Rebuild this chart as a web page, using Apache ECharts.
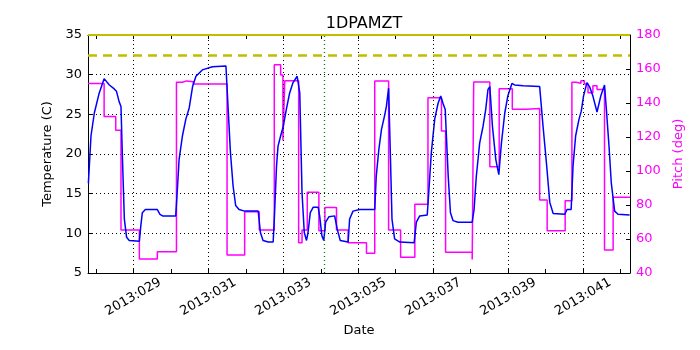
<!DOCTYPE html>
<html>
<head>
<meta charset="utf-8">
<script src="https://cdn.jsdelivr.net/npm/echarts@6/dist/echarts.min.js"></script>
<style>
  html, body { margin: 0; padding: 0; background: #fff; }
  #chart { width: 700px; height: 350px; }
</style>
</head>
<body>
<div id="chart"></div>
<script>
// day of year 2013 for each reading
var tempDays = [27.80, 27.87, 27.96, 28.09, 28.22, 28.36, 28.49, 28.55, 28.62, 28.67, 28.71, 28.76, 28.82, 28.89, 29.16, 29.20, 29.24, 29.32, 29.64, 29.71, 29.78, 30.13, 30.18, 30.22, 30.31, 30.40, 30.49, 30.58, 30.67, 30.84, 31.11, 31.47, 31.53, 31.59, 31.66, 31.73, 31.82, 31.97, 32.33, 32.39, 32.46, 32.60, 32.73, 32.76, 32.82, 32.86, 32.93, 33.00, 33.08, 33.17, 33.26, 33.37, 33.42, 33.44, 33.50, 33.56, 33.62, 33.66, 33.72, 33.80, 33.93, 33.97, 34.03, 34.08, 34.13, 34.22, 34.37, 34.44, 34.52, 34.73, 34.77, 34.86, 35.04, 35.44, 35.48, 35.55, 35.62, 35.71, 35.75, 35.81, 35.86, 35.90, 35.97, 36.11, 36.49, 36.55, 36.64, 36.84, 36.88, 36.95, 37.04, 37.13, 37.20, 37.26, 37.32, 37.40, 37.46, 37.53, 37.66, 38.04, 38.09, 38.15, 38.24, 38.33, 38.40, 38.46, 38.51, 38.58, 38.67, 38.75, 38.82, 38.91, 38.99, 39.10, 39.17, 39.40, 39.84, 39.93, 40.02, 40.11, 40.20, 40.51, 40.57, 40.68, 40.73, 40.80, 40.89, 40.95, 41.01, 41.10, 41.17, 41.26, 41.37, 41.47, 41.57, 41.62, 41.69, 41.75, 41.84, 41.93, 42.24];
var tempVals = [16.3, 22.3, 25.2, 27.7, 29.5, 28.7, 28.2, 27.9, 26.6, 26.0, 19.3, 11.8, 9.5, 9.1, 9.0, 11.0, 12.6, 13.0, 13.0, 12.4, 12.2, 12.2, 16.0, 19.3, 22.3, 24.4, 25.8, 28.5, 29.8, 30.6, 31.0, 31.1, 25.6, 20.2, 16.0, 13.5, 13.0, 12.8, 12.8, 10.1, 9.1, 8.9, 8.9, 11.8, 18.5, 21.0, 22.3, 23.5, 25.6, 27.7, 29.0, 29.8, 30.0, 27.7, 15.1, 10.1, 9.1, 10.1, 12.6, 13.3, 13.3, 12.2, 9.7, 9.1, 11.4, 12.1, 12.2, 10.5, 9.1, 8.9, 11.8, 12.8, 13.0, 13.0, 17.2, 20.6, 23.1, 25.0, 26.0, 28.3, 19.3, 11.8, 9.3, 8.9, 8.8, 11.4, 12.2, 12.3, 15.1, 20.2, 24.4, 26.4, 27.3, 26.4, 25.6, 17.2, 12.6, 11.6, 11.4, 11.4, 13.0, 17.2, 21.4, 23.5, 25.6, 28.1, 28.5, 23.5, 19.3, 17.4, 21.4, 25.2, 27.3, 28.9, 28.7, 28.6, 28.5, 23.5, 18.9, 13.9, 12.5, 12.4, 13.0, 13.0, 18.5, 22.3, 24.4, 25.4, 27.3, 29.0, 28.5, 27.3, 25.3, 27.3, 28.7, 25.6, 21.0, 16.4, 12.8, 12.4, 12.3];

// pitch is held until the next change
var pitchDays = [27.79, 28.22, 28.53, 28.67, 29.16, 29.64, 30.15, 30.31, 30.42, 30.60, 31.50, 31.97, 32.36, 32.76, 32.93, 32.99, 33.04, 33.41, 33.50, 33.64, 33.95, 34.11, 34.42, 34.73, 35.22, 35.44, 35.81, 36.13, 36.51, 36.86, 37.22, 37.33, 38.04, 38.08, 38.51, 38.76, 39.11, 39.47, 39.84, 40.04, 40.52, 40.70, 40.81, 40.94, 41.03, 41.13, 41.26, 41.37, 41.57, 41.80, 42.25];
var pitchVals = [151.5, 132.0, 124.0, 65.3, 48.2, 52.5, 152.2, 153.0, 152.5, 151.2, 50.6, 76.1, 65.3, 162.5, 156.5, 118.0, 153.1, 57.8, 65.3, 87.5, 64.9, 78.6, 65.3, 57.8, 51.6, 152.9, 65.3, 49.2, 80.4, 143.1, 123.5, 52.2, 48.0, 152.4, 102.5, 148.4, 136.3, 136.7, 82.9, 64.9, 82.5, 152.2, 151.6, 153.1, 151.2, 146.1, 150.2, 148.0, 53.5, 84.5, 84.5];

var tickDays = [28, 29, 30, 31, 32, 33, 34, 35, 36, 37, 38, 39, 40, 41, 42];
var labelDays = [29, 31, 33, 35, 37, 39, 41];
var yellowLimits = [32.5, 35];
var greenDay = 34.1;

var tempData = tempDays.map(function (d, i) { return [d, tempVals[i]]; });
var pitchData = pitchDays.map(function (d, i) { return [d, pitchVals[i]]; });

var fontName = "DejaVu Sans";
var grid = labelDays.map(function (d) {
    return { xAxis: d, lineStyle: { color: "#000", type: [1, 3], width: 1 } };
});
grid.push({ xAxis: greenDay, lineStyle: { color: "#008000", type: [1, 3], width: 1.3 } });
grid.push({ yAxis: yellowLimits[0], lineStyle: { color: "#bfbf00", type: [9, 6], width: 2.5 } });
grid.push({ yAxis: yellowLimits[1], lineStyle: { color: "#bfbf00", type: "solid", width: 2 } });

var myChart = echarts.init(document.getElementById("chart"), null, { renderer: "canvas" });
var option = {
    animation: false,
    backgroundColor: "#fff",
    textStyle: { fontFamily: fontName },
    title: {
        text: "1DPAMZT",
        left: 359,
        textAlign: "center",
        top: 11,
        textStyle: { fontSize: 16, fontWeight: "normal", color: "#000", fontFamily: fontName }
    },
    grid: { left: 88, right: 70, top: 35, bottom: 77 },
    xAxis: [
        {
            type: "value",
            min: 27.79,
            max: 42.25,
            name: "Date",
            nameLocation: "middle",
            nameGap: 46,
            nameTextStyle: { fontSize: 13, color: "#000", fontFamily: fontName },
            axisLine: { show: true, onZero: false, lineStyle: { color: "#000", width: 1 } },
            axisTick: { show: true, inside: true, length: 4, customValues: tickDays, lineStyle: { color: "#000" } },
            axisLabel: {
                customValues: labelDays,
                rotate: 30,
                align: "center",
                verticalAlign: "middle",
                margin: 24,
                fontSize: 13,
                color: "#000",
                fontFamily: fontName,
                formatter: function (v) { return "2013:0" + Math.round(v); }
            },
            splitLine: { show: false }
        },
        {
            type: "value",
            position: "top",
            min: 27.79,
            max: 42.25,
            axisLine: { show: true, onZero: false, lineStyle: { color: "#000", width: 1 } },
            axisTick: { show: true, inside: true, length: 4, customValues: tickDays, lineStyle: { color: "#000" } },
            axisLabel: { show: false },
            splitLine: { show: false }
        }
    ],
    yAxis: [
        {
            type: "value",
            min: 5,
            max: 35,
            interval: 5,
            name: "Temperature (C)",
            nameLocation: "middle",
            nameGap: 24,
            nameTextStyle: { fontSize: 13, color: "#000", fontFamily: fontName },
            axisLine: { show: true, lineStyle: { color: "#000", width: 1 } },
            axisTick: { show: true, inside: true, length: 4, lineStyle: { color: "#000" } },
            axisLabel: { fontSize: 13, color: "#000", margin: 6, fontFamily: fontName },
            splitLine: { show: true, lineStyle: { color: "#000", type: [1, 3], width: 1 } }
        },
        {
            type: "value",
            position: "right",
            min: 40,
            max: 180,
            interval: 20,
            name: "Pitch (deg)",
            nameLocation: "middle",
            nameGap: 31,
            nameRotate: 90,
            nameTextStyle: { fontSize: 13, color: "#ff00ff", fontFamily: fontName },
            axisLine: { show: true, lineStyle: { color: "#000", width: 1 } },
            axisTick: { show: true, inside: true, length: 4, lineStyle: { color: "#000" } },
            axisLabel: { fontSize: 13, color: "#ff00ff", margin: 6, fontFamily: fontName },
            splitLine: { show: false }
        }
    ],
    series: [
        {
            name: "Pitch",
            type: "line",
            yAxisIndex: 1,
            step: "end",
            symbol: "none",
            lineStyle: { color: "#ff00ff", width: 1.5 },
            data: pitchData
        },
        {
            name: "Temperature",
            type: "line",
            symbol: "none",
            lineStyle: { color: "#0000ff", width: 1.5 },
            data: tempData,
            markLine: {
                silent: true,
                symbol: "none",
                label: { show: false },
                animation: false,
                data: grid
            }
        }
    ]
};
myChart.setOption(option);
window.addEventListener("resize", function () {
    myChart.resize();
});
</script>
</body>
</html>
